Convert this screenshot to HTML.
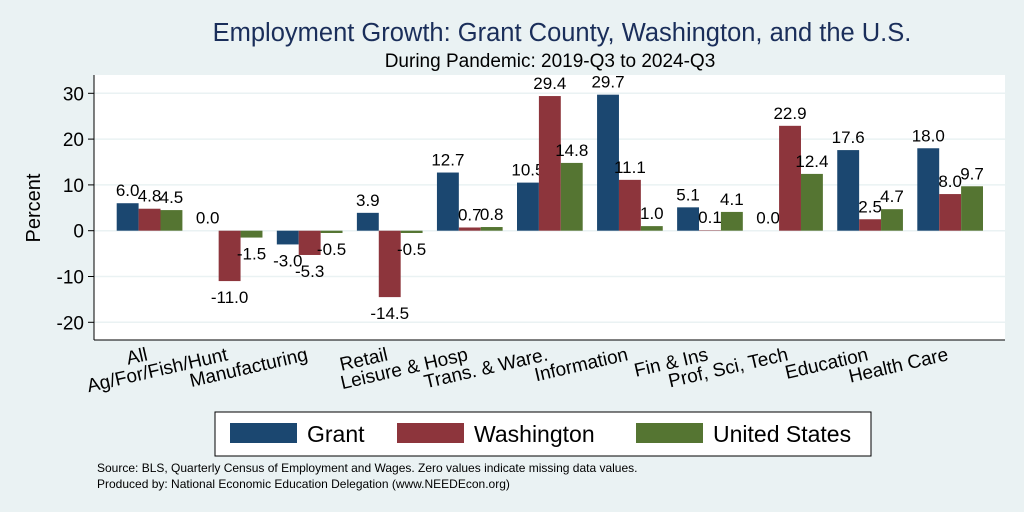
<!DOCTYPE html>
<html><head><meta charset="utf-8"><style>
body{margin:0;background:#eaf2f3;}
svg{display:block;font-family:"Liberation Sans",sans-serif;}
</style></head><body>
<svg id="c" width="1024" height="512">
<rect x="0" y="0" width="1024" height="512" fill="#eaf2f3"/>
<text x="562" y="41" text-anchor="middle" font-size="25.5" fill="#1a2e5a">Employment Growth: Grant County, Washington, and the U.S.</text>
<text x="550" y="67" text-anchor="middle" font-size="19" fill="#000">During Pandemic: 2019-Q3 to 2024-Q3</text>
<rect x="94" y="75" width="911" height="265" fill="#fff"/>
<g id="grid"></g><g id="bars"></g><g id="yaxis"></g><g id="xaxis"></g>
<text transform="translate(40,208) rotate(-90)" text-anchor="middle" font-size="20">Percent</text>
<g>
<rect x="215" y="412" width="656" height="44" fill="#fff" stroke="#000" stroke-width="1"/>
<g><rect x="230" y="423" width="67" height="20" fill="#1b4770"/><text x="307" y="442" font-size="23">Grant</text></g>
<g><rect x="397" y="423" width="67" height="20" fill="#8d353c"/><text x="474" y="442" font-size="23">Washington</text></g>
<g><rect x="636" y="423" width="67" height="20" fill="#557532"/><text x="713" y="442" font-size="23">United States</text></g>
</g>
<text x="97" y="472" font-size="12">Source: BLS, Quarterly Census of Employment and Wages. Zero values indicate missing data values.</text>
<text x="97" y="488" font-size="12">Produced by: National Economic Education Delegation (www.NEEDEcon.org)</text>
</svg>
<script>
const categories=["All","Ag/For/Fish/Hunt","Manufacturing","Retail","Leisure & Hosp","Trans. & Ware.","Information","Fin & Ins","Prof, Sci, Tech","Education","Health Care"];
const grant=[6.0,0.0,-3.0,3.9,12.7,10.5,29.7,5.1,0.0,17.6,18.0];
const washington=[4.8,-11.0,-5.3,-14.5,0.7,29.4,11.1,0.1,22.9,2.5,8.0];
const unitedStates=[4.5,-1.5,-0.5,-0.5,0.8,14.8,1.0,4.1,12.4,4.7,9.7];
const yTicks=[-20,-10,0,10,20,30];
const NS="http://www.w3.org/2000/svg";
function y(v){return 230.7-v*4.58;}
function gx(i){return 116.7+i*80.06;}
const BW=21.9;
function mk(t,a,p){const e=document.createElementNS(NS,t);for(const k in a)e.setAttribute(k,a[k]);p.appendChild(e);return e;}
const grid=document.getElementById('grid'),bars=document.getElementById('bars'),ya=document.getElementById('yaxis'),xa=document.getElementById('xaxis');
yTicks.forEach(t=>{
 const l=mk('line',{x1:94,x2:1005,y1:y(t),y2:y(t),stroke:'#eaf2f3','stroke-width':1.5},grid);
 
 
 const tk=mk('line',{x1:88,x2:94,y1:y(t),y2:y(t),stroke:'#000'},ya);
 
 
 const tx=mk('text',{x:84,y:y(t)+7,'text-anchor':'end','font-size':19},ya);
 tx.textContent=t;
 
 
});
mk('line',{x1:94,x2:94,y1:75,y2:340,stroke:'#000'},ya);
mk('line',{x1:94,x2:1005,y1:340,y2:340,stroke:'#000'},xa);
const series=[[grant,'#1b4770','grant'],[washington,'#8d353c','washington'],[unitedStates,'#557532','united-states']];
categories.forEach((c,i)=>{
 series.forEach(([arr,col,nm],s)=>{
  const v=arr[i],x=gx(i)+s*BW;
  const r=mk('rect',{x:x,y:Math.min(y(v),y(0)),width:BW,height:Math.abs(y(v)-y(0)),fill:col},bars);
  
  
  const tx=mk('text',{x:x+BW/2,y:v>=0?y(v)-7:y(v)+22,'text-anchor':'middle','font-size':17},bars);
  tx.textContent=v.toFixed(1);
  
  
 });
 const cx=gx(i)+BW*1.5;
 const lab=mk('text',{transform:`translate(${cx-1},${360}) rotate(-13)`,'text-anchor':'end','font-size':19},xa);
 lab.textContent=c;
 
 
});
</script>
</body></html>
